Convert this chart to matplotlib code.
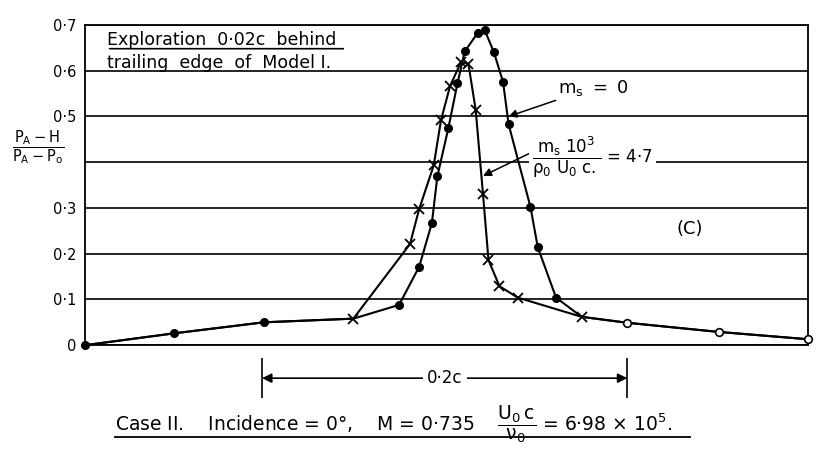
import matplotlib.pyplot as plt
from matplotlib.lines import Line2D

# distance along the traverse, in chords (c), and (pA - H)/(pA - p0)
ms0_x = [0.000, 0.049, 0.098, 0.172, 0.183, 0.190, 0.193, 0.199, 0.204, 0.208,
         0.215, 0.219, 0.224, 0.229, 0.232, 0.244, 0.248, 0.258]
ms0_y = [0.000, 0.026, 0.050, 0.088, 0.171, 0.267, 0.369, 0.474, 0.572, 0.642,
         0.682, 0.688, 0.640, 0.575, 0.483, 0.302, 0.214, 0.104]

ms47_x = [0.147, 0.178, 0.183, 0.191, 0.195, 0.200, 0.206, 0.210, 0.214, 0.218,
          0.221, 0.227, 0.237, 0.272]
ms47_y = [0.058, 0.221, 0.297, 0.393, 0.492, 0.567, 0.619, 0.615, 0.514, 0.330,
          0.186, 0.129, 0.104, 0.062]

# points common to both runs on the tail of the wake
tail_x = [0.297, 0.347, 0.396]
tail_y = [0.049, 0.029, 0.013]

yticks = [0, 0.1, 0.2, 0.3, 0.4, 0.5, 0.6, 0.7]
ytick_labels = ['0', '0·1', '0·2', '0·3', '', '0·5', '0·6', '0·7']

dim_start = 0.097
dim_len = 0.2

plt.rcParams['mathtext.fontset'] = 'dejavusans'

fig = plt.figure(figsize=(8.17, 4.53), dpi=100)
ax = fig.add_axes([0.104, 0.238, 0.885, 0.707])

# curves (ms = 0 passes through the first cross and the junction cross too)
line0_x = ms0_x[:3] + ms47_x[:1] + ms0_x[3:] + ms47_x[-1:] + tail_x
line0_y = ms0_y[:3] + ms47_y[:1] + ms0_y[3:] + ms47_y[-1:] + tail_y
line47_x = ms0_x[:3] + ms47_x + tail_x
line47_y = ms0_y[:3] + ms47_y + tail_y
ax.plot(line0_x, line0_y, color='black', lw=1.5, solid_joinstyle='round', clip_on=False)
ax.plot(line47_x, line47_y, color='black', lw=1.5, solid_joinstyle='round', clip_on=False)

ax.plot(ms0_x, ms0_y, 'o', color='black', ms=5.5, clip_on=False, zorder=4)
ax.plot(ms47_x, ms47_y, 'x', color='black', ms=7, mew=1.3, clip_on=False, zorder=4)
ax.plot(tail_x, tail_y, 'o', mfc='white', mec='black', mew=1.2, ms=5.5, clip_on=False, zorder=4)

ax.set_xlim(0, 0.396)
ax.set_ylim(0, 0.7)
ax.set_yticks(yticks)
ax.set_yticklabels(ytick_labels, fontsize=10.5)
ax.set_xticks([])
ax.tick_params(axis='y', length=0, pad=6)
ax.yaxis.grid(True, color='black', lw=1.2)
ax.set_axisbelow(True)
for sp in ax.spines.values():
    sp.set_linewidth(1.3)
    sp.set_color('black')

# header note
ax.text(0.012, 0.656, 'Exploration  0·02c  behind', fontsize=12.5)
ax.text(0.012, 0.606, 'trailing  edge  of  Model I.', fontsize=12.5)
ax.annotate('', xy=(0.012, 0.648), xytext=(0.143, 0.648),
            arrowprops=dict(arrowstyle='-', lw=1.2, color='black'))

# curve labels
ax.annotate(r'$\mathregular{m_s\ =\ 0}$', xy=(0.232, 0.50), xytext=(0.259, 0.563),
            fontsize=13, va='center',
            arrowprops=dict(arrowstyle='-|>', lw=1.1, color='black', mutation_scale=12,
                            shrinkA=0, shrinkB=0))
ax.annotate('', xy=(0.218, 0.37), xytext=(0.248, 0.428),
            arrowprops=dict(arrowstyle='-|>', lw=1.1, color='black', mutation_scale=12,
                            shrinkA=0, shrinkB=0))
ax.text(0.245, 0.41, r'$\mathregular{\dfrac{m_s\ 10^3}{\rho_0\ U_0\ c.}}$ = 4·7',
        fontsize=12, va='center',
        bbox=dict(facecolor='white', edgecolor='none', pad=2))
ax.text(0.331, 0.255, '(C)', fontsize=13, ha='center', va='center')

# 0.2c dimension line below the axis
ax.annotate('', xy=(dim_start, -0.103), xytext=(dim_start + dim_len, -0.103),
            xycoords=('data', 'axes fraction'), textcoords=('data', 'axes fraction'),
            arrowprops=dict(arrowstyle='<|-|>', lw=1.2, color='black', mutation_scale=14,
                            shrinkA=0, shrinkB=0))
ax.vlines([dim_start, dim_start + dim_len], -0.166, -0.04, color='black', lw=1.2,
          transform=ax.get_xaxis_transform(), clip_on=False)
ax.text(dim_start + dim_len / 2, -0.103, '0·2c', fontsize=12, ha='center', va='center',
        transform=ax.get_xaxis_transform(),
        bbox=dict(facecolor='white', edgecolor='none', pad=3))

# y label
fig.text(0.047, 0.675, r'$\mathregular{\dfrac{P_A - H}{P_A - P_o}}$', fontsize=10.5,
         ha='center', va='center')

# caption
fig.text(0.141, 0.064,
         r'Case II.    Incidence = 0°,    M = 0·735    $\mathregular{\dfrac{U_0\,c}{\nu_0}}$ = 6·98 × 10$^5$.',
         fontsize=13.5, va='center')
fig.add_artist(Line2D([0.141, 0.845], [0.035, 0.035], color='black', lw=1.3))

plt.savefig('out.png', dpi=100)
